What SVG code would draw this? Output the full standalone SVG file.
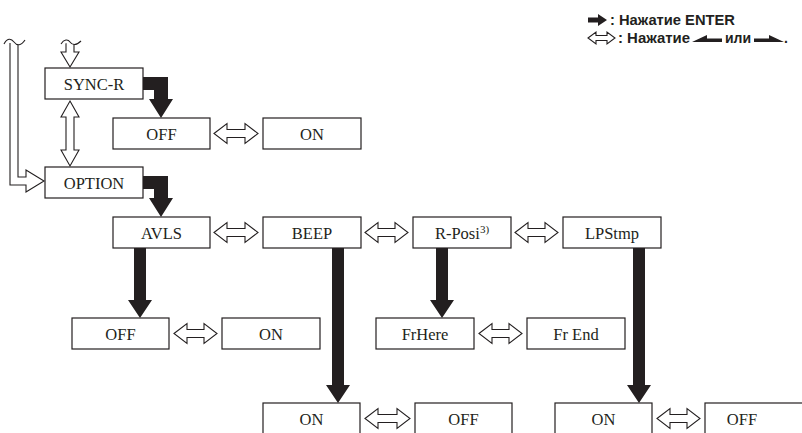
<svg xmlns="http://www.w3.org/2000/svg" width="802" height="433" viewBox="0 0 802 433">
<style>
.box{fill:#fff;stroke:#231f20;stroke-width:1.2}
.lbl{font-family:"Liberation Serif","Times New Roman",serif;font-size:16.5px;fill:#231f20;text-anchor:middle}
.open{fill:#fff;stroke:#231f20;stroke-width:1.1;stroke-linejoin:miter}
.solid{fill:#231f20;stroke:none}
.leg{font-family:"Liberation Sans",Arial,sans-serif;font-weight:bold;font-size:14px;fill:#231f20}
</style>
<rect width="802" height="433" fill="#fff"/>

<g id="legend">
<path class="solid" d="M588,17.5 H598 V14 L607,20 L598,26 V22.5 H588 Z"/>
<text class="leg" x="610" y="25" textLength="125" lengthAdjust="spacingAndGlyphs">: Нажатие ENTER</text>
<path class="open" d="M588,38 L596,32 V35.5 H607 V32 L615,38 L607,44 V40.5 H596 V44 Z"/>
<text class="leg" x="618" y="43" textLength="72" lengthAdjust="spacingAndGlyphs">: Нажатие</text>
<path class="solid" d="M692,42 L707,35 V38.5 H722 V42 Z"/>
<text class="leg" x="725" y="43">или</text>
<path class="solid" d="M754,38.5 H769 V35 L784,42 H754 Z"/>
<text class="leg" x="784" y="43">.</text>
</g>

<g id="connectors">
<path class="open" d="M10,43 V185 H26 V192 L44,181 L26,170 V177 H18 V43"/>
<path class="open" d="M4,44 C7,38 11,38 14,42 S21,46 25,40" fill="none"/>
<path class="open" d="M66,43 V52 H61 L70,67 L79,52 H74 V43"/>
<path class="open" d="M61,44 C64,39 68,39 70,42 S76,46 81,41" fill="none"/>
<path class="open" d="M70,101 L79,117 H74 V150 H79 L70,166 L61,150 H66 V117 H61 Z"/>
<path class="solid" d="M143,77 H168 V99 H173 L161,118 L149,99 H154 V90 H143 Z"/>
<path class="solid" d="M143,176 H168 V198 H173 L161,217 L149,198 H154 V189 H143 Z"/>
<path class="open" d="M214,133.5 L227,123.5 V129.5 H245 V123.5 L258,133.5 L245,143.5 V137.5 H227 V143.5 Z"/>
<path class="open" d="M214,232.5 L227,222.5 V228.5 H245 V222.5 L258,232.5 L245,242.5 V236.5 H227 V242.5 Z"/>
<path class="open" d="M365,232.5 L378,222.5 V228.5 H395 V222.5 L408,232.5 L395,242.5 V236.5 H378 V242.5 Z"/>
<path class="open" d="M515,232.5 L528,222.5 V228.5 H545 V222.5 L558,232.5 L545,242.5 V236.5 H528 V242.5 Z"/>
<path class="open" d="M174,333.5 L187,323.5 V329.5 H204 V323.5 L217,333.5 L204,343.5 V337.5 H187 V343.5 Z"/>
<path class="open" d="M479,333.5 L492,323.5 V329.5 H509 V323.5 L522,333.5 L509,343.5 V337.5 H492 V343.5 Z"/>
<path class="open" d="M365,418.5 L378,408.5 V414.5 H397 V408.5 L410,418.5 L397,428.5 V422.5 H378 V428.5 Z"/>
<path class="open" d="M657,418.5 L670,408.5 V414.5 H687 V408.5 L700,418.5 L687,428.5 V422.5 H670 V428.5 Z"/>
<path class="solid" d="M134,248 H146 V300 H152 L140,318 L128,300 H134 Z"/>
<path class="solid" d="M332,248 H344 V385 H350 L338,403 L326,385 H332 Z"/>
<path class="solid" d="M436,248 H448 V300 H454 L442,318 L430,300 H436 Z"/>
<path class="solid" d="M633,248 H645 V385 H651 L639,403 L627,385 H633 Z"/>
</g>

<g id="sync-r"><rect class="box" x="45" y="68" width="98" height="31"/><text class="lbl" x="94" y="89.5">SYNC-R</text></g>
<g id="sync-off"><rect class="box" x="113" y="118" width="97" height="31"/><text class="lbl" x="161.5" y="139.5">OFF</text></g>
<g id="sync-on"><rect class="box" x="263" y="118" width="98" height="31"/><text class="lbl" x="312" y="139.5">ON</text></g>
<g id="option"><rect class="box" x="45" y="167" width="98" height="31"/><text class="lbl" x="94" y="188.5">OPTION</text></g>
<g id="avls"><rect class="box" x="113" y="217" width="97" height="31"/><text class="lbl" x="161.5" y="238.5">AVLS</text></g>
<g id="beep"><rect class="box" x="263" y="217" width="98" height="31"/><text class="lbl" x="312" y="238.5">BEEP</text></g>
<g id="r-posi"><rect class="box" x="413" y="217" width="98" height="31"/><text class="lbl" x="462" y="238.5">R-Posi<tspan font-size="11" dy="-6">3)</tspan></text></g>
<g id="lpstmp"><rect class="box" x="563" y="217" width="98" height="31"/><text class="lbl" x="612" y="238.5">LPStmp</text></g>
<g id="avls-off"><rect class="box" x="72" y="318" width="97" height="31"/><text class="lbl" x="120.5" y="339.5">OFF</text></g>
<g id="avls-on"><rect class="box" x="222" y="318" width="98" height="31"/><text class="lbl" x="271" y="339.5">ON</text></g>
<g id="frhere"><rect class="box" x="376" y="318" width="98" height="31"/><text class="lbl" x="425" y="339.5">FrHere</text></g>
<g id="frend"><rect class="box" x="527" y="318" width="98" height="31"/><text class="lbl" x="576" y="339.5">Fr End</text></g>
<g id="beep-on"><rect class="box" x="263" y="403" width="97" height="34"/><text class="lbl" x="311.5" y="424.5">ON</text></g>
<g id="beep-off"><rect class="box" x="415" y="403" width="97" height="34"/><text class="lbl" x="463.5" y="424.5">OFF</text></g>
<g id="lps-on"><rect class="box" x="555" y="403" width="97" height="34"/><text class="lbl" x="603.5" y="424.5">ON</text></g>
<g id="lps-off"><rect class="box" x="705" y="403" width="100" height="34"/><text class="lbl" x="742" y="424.5">OFF</text></g>
</svg>
